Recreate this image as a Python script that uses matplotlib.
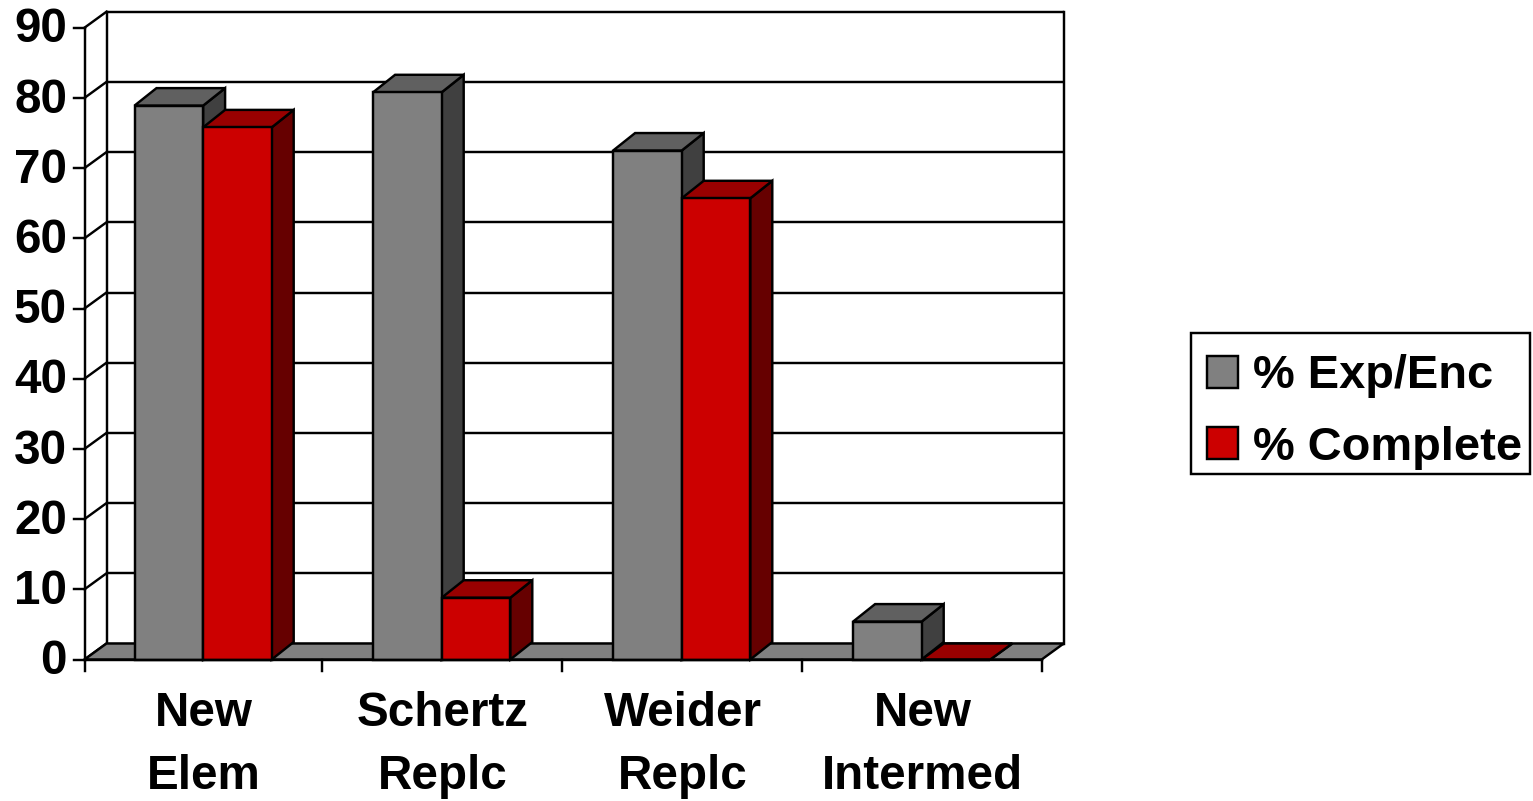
import matplotlib
matplotlib.use("Agg")
import matplotlib.pyplot as plt
from matplotlib.patches import Polygon, Patch, Rectangle

categories = ["New\nElem", "Schertz\nReplc", "Weider\nReplc", "New\nIntermed"]
exp_enc = [78.9, 80.8, 72.5, 5.4]
complete = [75.8, 8.8, 65.7, 0]
series_names = ["% Exp/Enc", "% Complete"]
y_ticks = list(range(0, 100, 10))

W, H = 1533, 801
PX_L, PX_R, PX_B, PX_T = 81.7, 1041.7, 659.5, 27.7
LW = 1.75
FS = 34.3
FONT = ["Liberation Sans", "DejaVu Sans"]
plt.rcParams["font.family"] = FONT
plt.rcParams["font.weight"] = "bold"

fig = plt.figure(figsize=(W / 100, H / 100), dpi=100)
ax = fig.add_axes([PX_L / W, 1 - PX_B / H, (PX_R - PX_L) / W, (PX_B - PX_T) / H])
ax.set_xlim(0, 4)
ax.set_ylim(0, 90)
ax.axis("off")

xu = 4 / (PX_R - PX_L)          # data units per pixel
yu = 90 / (PX_B - PX_T)
wall_dx, wall_dy = 22 * xu, 16 * yu
bar_dx, bar_dy = 22 * xu, 17.5 * yu
x_left = 2.8 * xu               # the left axis sits just inside the first category
bar_w = 68.6 * xu
edges = [x_left, 1, 2, 3, 4]

kw = dict(edgecolor="black", linewidth=LW, clip_on=False, joinstyle="miter")

# back wall: grid lines and verticals
for v in y_ticks:
    ax.plot([x_left + wall_dx, 4 + wall_dx], [v + wall_dy] * 2, color="black", lw=LW,
            clip_on=False, zorder=1, solid_capstyle="butt")
    ax.plot([x_left, x_left + wall_dx], [v, v + wall_dy], color="black", lw=LW,
            clip_on=False, zorder=1)
    ax.plot([x_left - 11 * xu, x_left], [v, v], color="black", lw=LW, clip_on=False, zorder=1)
    ax.text(x_left - 17.5 * xu, v - 0.3, str(v), ha="right", va="center", fontsize=FS,
            fontweight="bold", clip_on=False)
for x in (x_left + wall_dx, 4 + wall_dx):
    ax.plot([x, x], [wall_dy, 90 + wall_dy], color="black", lw=LW, clip_on=False, zorder=1)
ax.plot([x_left, x_left], [0, 90], color="black", lw=LW, clip_on=False, zorder=1)

# floor
ax.add_patch(Polygon([(x_left, 0), (4, 0), (4 + wall_dx, wall_dy), (x_left + wall_dx, wall_dy)],
                     closed=True, facecolor="#808080", zorder=2, **kw))


def bar3d(x, v, front, top, side, z):
    dy = bar_dy if v > 0 else wall_dy
    ax.add_patch(Polygon([(x + bar_w, 0), (x + bar_w + bar_dx, dy),
                          (x + bar_w + bar_dx, v + dy), (x + bar_w, v)],
                         closed=True, facecolor=side, zorder=z, **kw))
    ax.add_patch(Polygon([(x, v), (x + bar_w, v), (x + bar_w + bar_dx, v + dy),
                          (x + bar_dx, v + dy)],
                         closed=True, facecolor=top, zorder=z, **kw))
    ax.bar(x, v, width=bar_w, align="edge", color=front, zorder=z + 0.5,
           edgecolor="black", linewidth=LW, clip_on=False)


for i, (a, b) in enumerate(zip(exp_enc, complete)):
    mid = (edges[i] + edges[i + 1]) / 2
    bar3d(mid - bar_w, a, "#808080", "#606060", "#404040", 3 + i)
    bar3d(mid, b, "#CC0000", "#990000", "#660000", 3.6 + i)

# front baseline, category ticks and labels
ax.plot([x_left, 4], [0, 0], color="black", lw=LW, clip_on=False, zorder=9)
for t in edges:
    ax.plot([t, t], [0, -11 * yu], color="black", lw=LW, clip_on=False, zorder=9)
for i, c in enumerate(categories):
    mid = (edges[i] + edges[i + 1]) / 2
    ax.text(mid + 1 * xu, -4.55, c, ha="center", va="top", fontsize=FS, fontweight="bold",
            linespacing=1.5, clip_on=False)

# legend: frame plus handles and labels
fig.add_artist(Rectangle((1191 / W, 1 - 474 / H), 339 / W, 141 / H, transform=fig.transFigure,
                         facecolor="white", edgecolor="black", linewidth=LW))
handles = [Patch(facecolor="#808080", edgecolor="black", linewidth=LW),
           Patch(facecolor="#CC0000", edgecolor="black", linewidth=LW)]
leg = fig.legend(handles, series_names, loc="center left",
                 bbox_to_anchor=(1207 / W, 1 - 412 / H), fontsize=33.8,
                 frameon=False, handlelength=0.65, handleheight=0.65, handletextpad=0.32,
                 labelspacing=0.58, borderpad=0, borderaxespad=0)

fig.savefig("out.png", dpi=100, facecolor="white")
